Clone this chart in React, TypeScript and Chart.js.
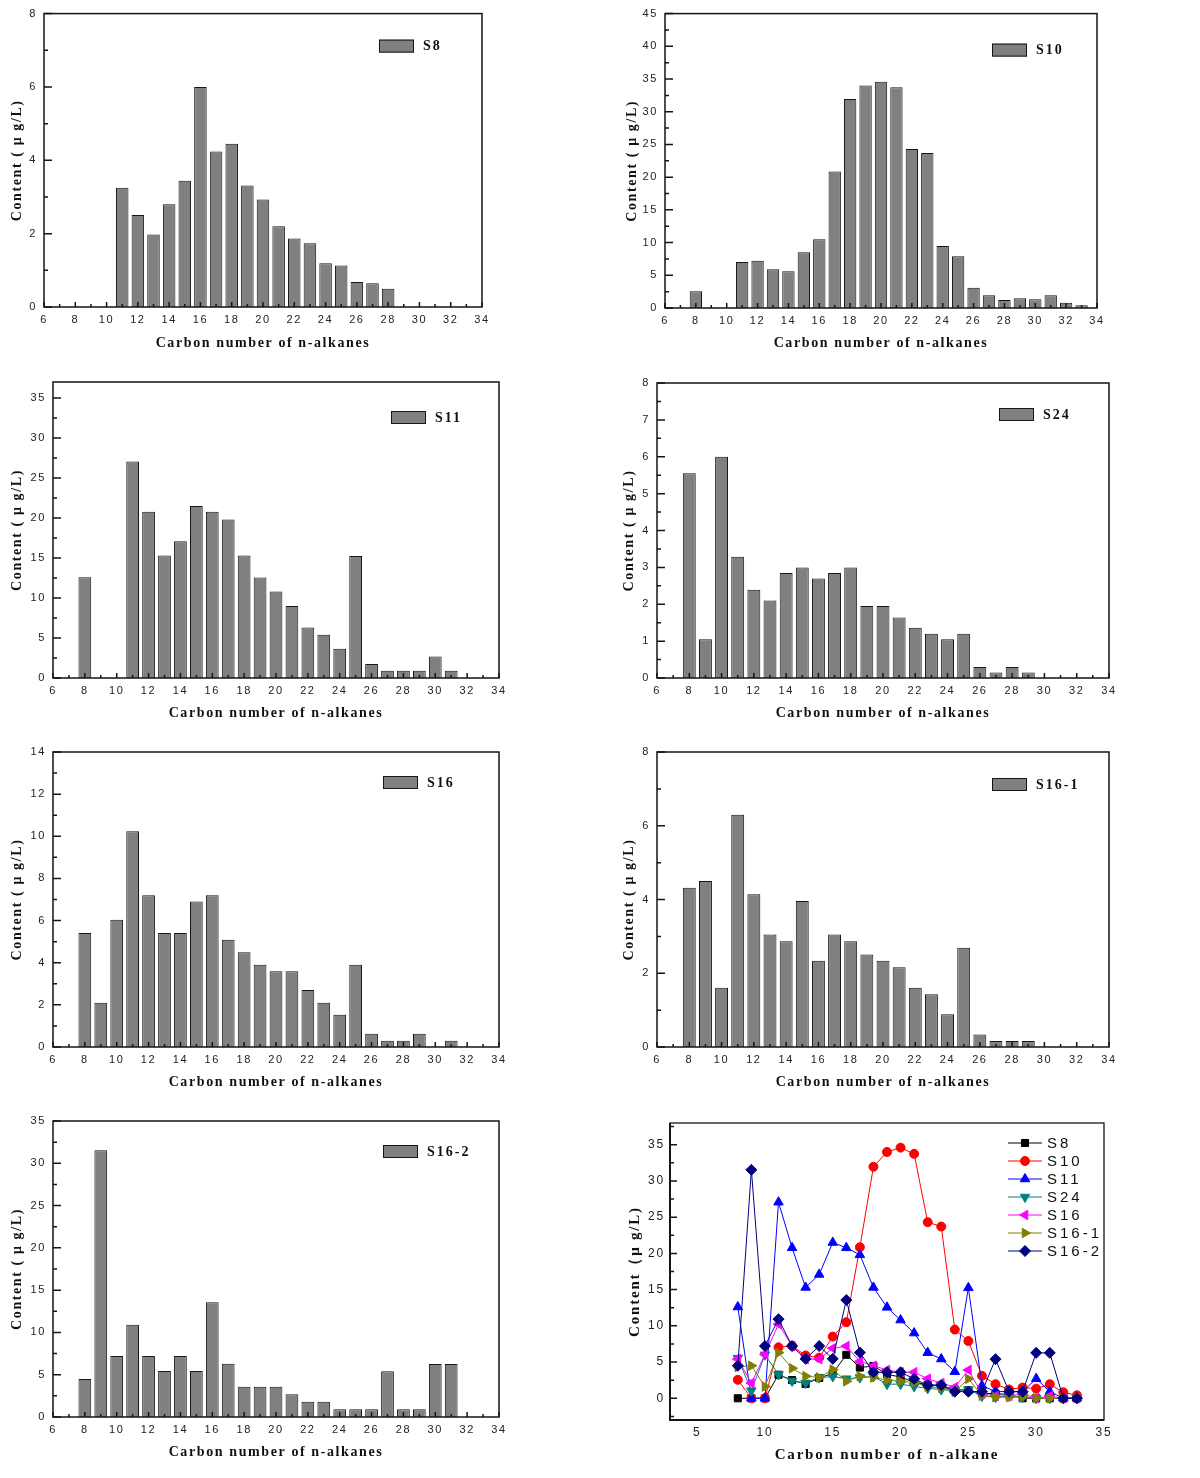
import React, { useEffect, useRef } from 'react';
import { Chart, registerables } from 'chart.js';

Chart.register(...registerables);

// ---------------- DATA ----------------
const CARBON = [8, 9, 10, 11, 12, 13, 14, 15, 16, 17, 18, 19, 20, 21, 22, 23, 24, 25, 26, 27, 28, 29, 30, 31, 32, 33];

const S8 = [null, null, null, 3.25, 2.51, 1.98, 2.8, 3.44, 6.0, 4.24, 4.45, 3.31, 2.93, 2.2, 1.87, 1.74, 1.19, 1.13, 0.68, 0.65, 0.5, null, null, null, null, null];
const S10 = [2.55, null, null, 7.03, 7.24, 5.91, 5.61, 8.51, 10.5, 20.85, 31.96, 34.0, 34.6, 33.74, 24.31, 23.7, 9.48, 7.9, 3.1, 1.94, 1.22, 1.48, 1.33, 1.94, 0.82, 0.41];
const S11 = [12.6, null, null, 27.07, 20.77, 15.3, 17.1, 21.5, 20.77, 19.8, 15.3, 12.55, 10.8, 9.0, 6.3, 5.42, 3.67, 15.25, 1.75, 0.92, 0.92, 0.92, 2.7, 0.92, null, null];
const S24 = [5.55, 1.05, 6.0, 3.29, 2.39, 2.1, 2.85, 3.0, 2.7, 2.85, 3.0, 1.95, 1.95, 1.64, 1.36, 1.2, 1.05, 1.2, 0.3, 0.15, 0.3, 0.15, null, null, null, null];
const S16 = [5.41, 2.1, 6.04, 10.24, 7.2, 5.41, 5.41, 6.9, 7.2, 5.09, 4.5, 3.9, 3.6, 3.6, 2.7, 2.1, 1.53, 3.9, 0.63, 0.3, 0.3, 0.63, null, 0.3, null, null];
const S16_1 = [4.32, 4.5, 1.61, 6.3, 4.14, 3.05, 2.87, 3.96, 2.34, 3.05, 2.87, 2.51, 2.34, 2.16, 1.61, 1.43, 0.89, 2.69, 0.34, 0.16, 0.16, 0.16, null, null, null, null];
const S16_2 = [4.49, 31.53, 7.21, 10.92, 7.21, 5.44, 7.21, 5.44, 13.56, 6.31, 3.59, 3.59, 3.59, 2.68, 1.81, 1.81, 0.91, 0.91, 0.91, 5.4, 0.91, 0.91, 6.27, 6.27, null, null];

const SERIES_NAMES = ['S8', 'S10', 'S11', 'S24', 'S16', 'S16-1', 'S16-2'];
const SERIES_VALUES = [S8, S10, S11, S24, S16, S16_1, S16_2];

const X_TITLE_BAR = 'Carbon number of n-alkanes';
const X_TITLE_LINE = 'Carbon number of n-alkane';
const Y_TITLE_BAR = 'Content ( μ g/L)';
const Y_TITLE_LINE = 'Content（μ g/L)';

// ---------------- STYLES / LAYOUT ----------------
const BAR_FILL = '#808080';
const EDGE = '#151515';
const LINE_COLORS = ['#000000', '#ff0000', '#0000ff', '#008080', '#ff00ff', '#808000', '#000080'];
const LINE_POINTS = ['rect', 'circle', 'triangle', 'triangle', 'triangle', 'triangle', 'rectRot'];
const LINE_ROT = [0, 0, 0, 180, 270, 90, 0];
const LINE_RADIUS = [5, 4.5, 5.5, 5.5, 5.5, 5.5, 5.5];

type BarPanelCfg = {
  idx: number;
  canvas: [number, number, number, number];
  area: [number, number, number, number];
  yMax: number;
  yMajor: number;
  yMinor: number;
  legend: [number, number];
  yTitleX: number;
  xTitleOff: number;
};

const BAR_PANELS: BarPanelCfg[] = [
  { idx: 0, canvas: [0, 0, 600, 365], area: [44, 12, 482, 307], yMax: 8, yMajor: 2, yMinor: 1, legend: [103, 26], yTitleX: 17, xTitleOff: 22 },
  { idx: 1, canvas: [600, 0, 600, 365], area: [665, 13, 1097, 308], yMax: 45, yMajor: 5, yMinor: 2.5, legend: [105, 30], yTitleX: 32, xTitleOff: 22 },
  { idx: 2, canvas: [0, 365, 600, 370], area: [53, 382, 499, 678], yMax: 37, yMajor: 5, yMinor: 2.5, legend: [108, 29], yTitleX: 17, xTitleOff: 22 },
  { idx: 3, canvas: [600, 365, 600, 370], area: [657, 383, 1109, 678], yMax: 8, yMajor: 1, yMinor: 0.5, legend: [110, 25], yTitleX: 29, xTitleOff: 22 },
  { idx: 4, canvas: [0, 735, 600, 368], area: [53, 752, 499, 1047], yMax: 14, yMajor: 2, yMinor: 1, legend: [116, 24], yTitleX: 17, xTitleOff: 21 },
  { idx: 5, canvas: [600, 735, 600, 368], area: [657, 752, 1109, 1047], yMax: 8, yMajor: 2, yMinor: 1, legend: [117, 26], yTitleX: 29, xTitleOff: 21 },
  { idx: 6, canvas: [0, 1103, 600, 375], area: [53, 1121, 499, 1417], yMax: 35, yMajor: 5, yMinor: 2.5, legend: [116, 24], yTitleX: 17, xTitleOff: 26 },
];

const LINE_PANEL = { canvas: [600, 1103, 600, 375], area: [670, 1123, 1104, 1420], yTitleX: 35, xTitleOff: 23 };

const TICK_FONT = { family: "'Liberation Sans', Arial, sans-serif", size: 11 };
const TITLE_FONT = { family: "'Liberation Serif', 'Times New Roman', serif", size: 14, weight: 'bold' as const, lineHeight: 1.2 };

function isMult(v: number, step: number) {
  const r = v / step;
  return Math.abs(r - Math.round(r)) < 1e-6;
}

function tickValues(min: number, max: number, step: number) {
  const out: number[] = [];
  const start = Math.ceil(min / step - 1e-9);
  for (let k = start; k * step <= max + 1e-9; k++) out.push(k * step);
  return out;
}

function drawMarker(ctx: CanvasRenderingContext2D, style: string, rotDeg: number, x: number, y: number, r: number) {
  ctx.beginPath();
  let rad = (rotDeg * Math.PI) / 180;
  if (style === 'circle') {
    ctx.arc(x, y, r, 0, Math.PI * 2);
  } else if (style === 'rect') {
    const s = Math.SQRT1_2 * r;
    ctx.rect(x - s, y - s, 2 * s, 2 * s);
  } else if (style === 'triangle') {
    for (let i = 0; i < 3; i++) {
      const px = x + Math.sin(rad) * r;
      const py = y - Math.cos(rad) * r;
      if (i === 0) ctx.moveTo(px, py);
      else ctx.lineTo(px, py);
      rad += (2 * Math.PI) / 3;
    }
    ctx.closePath();
  } else if (style === 'rectRot') {
    const xo = Math.cos(rad) * r;
    const yo = Math.sin(rad) * r;
    ctx.moveTo(x - xo, y - yo);
    ctx.lineTo(x + yo, y - xo);
    ctx.lineTo(x + xo, y + yo);
    ctx.lineTo(x - yo, y + xo);
    ctx.closePath();
  }
  ctx.fill();
  ctx.stroke();
}

// ---------------- BAR PANEL ----------------
function BarPanel({ cfg }: { cfg: BarPanelCfg }) {
  const ref = useRef<HTMLCanvasElement | null>(null);
  const [cx, cy, cw, ch] = cfg.canvas;
  useEffect(() => {
    const [al, at, ar, ab] = cfg.area;
    const name = SERIES_NAMES[cfg.idx];
    const values = SERIES_VALUES[cfg.idx];
    const decor = {
      id: 'decor',
      beforeDraw(chart: any) {
        chart.ctx.letterSpacing = '1.6px';
      },
      afterDraw(chart: any) {
        const { ctx, chartArea: a, scales } = chart;
        ctx.save();
        ctx.strokeStyle = EDGE;
        ctx.lineWidth = 1.5;
        ctx.strokeRect(a.left, a.top, a.right - a.left, a.bottom - a.top);
        ctx.beginPath();
        for (const v of tickValues(6, 34, 1)) {
          const px = scales.x.getPixelForValue(v);
          const len = isMult(v, 2) ? 5 : 3;
          ctx.moveTo(px, a.bottom);
          ctx.lineTo(px, a.bottom - len);
        }
        for (const v of tickValues(0, cfg.yMax, cfg.yMinor)) {
          const py = scales.y.getPixelForValue(v);
          const len = isMult(v, cfg.yMajor) ? 8 : 4;
          ctx.moveTo(a.left, py);
          ctx.lineTo(a.left + len, py);
        }
        ctx.stroke();
        // legend
        const bx = a.right - cfg.legend[0];
        const by = a.top + cfg.legend[1];
        ctx.fillStyle = BAR_FILL;
        ctx.lineWidth = 1;
        ctx.fillRect(bx, by, 35, 13);
        ctx.strokeRect(bx + 0.5, by + 0.5, 34, 12);
        ctx.fillStyle = '#111';
        ctx.font = "bold 14px 'Liberation Serif', 'Times New Roman', serif";
        ctx.letterSpacing = '2px';
        ctx.textBaseline = 'middle';
        ctx.textAlign = 'left';
        ctx.fillText(name, bx + 44, by + 7);
        ctx.restore();
      },
    };
    const chart = new Chart(ref.current as HTMLCanvasElement, {
      type: 'bar',
      data: {
        datasets: [
          {
            label: name,
            data: CARBON.map((c, i) => ({ x: c, y: values[i] })).filter((d) => d.y !== null) as any,
            backgroundColor: BAR_FILL,
            borderColor: EDGE,
            borderWidth: 1,
            barPercentage: 0.8,
            categoryPercentage: 1,
          },
        ],
      },
      options: {
        responsive: false,
        animation: false,
        devicePixelRatio: 1,
        layout: { padding: { left: 0, top: at - cy, right: cx + cw - ar, bottom: 0 } },
        plugins: { legend: { display: false }, tooltip: { enabled: false } },
        scales: {
          x: {
            type: 'linear',
            min: 6,
            max: 34,
            offset: false,
            grid: { display: false, drawTicks: false },
            border: { display: false },
            ticks: {
              stepSize: 1,
              autoSkip: false,
              maxRotation: 0,
              padding: 6,
              color: '#222',
              font: TICK_FONT,
              callback: (v: any) => (isMult(Number(v), 2) ? String(v) : ''),
            },
            title: {
              display: true,
              text: X_TITLE_BAR,
              color: '#111',
              font: TITLE_FONT,
              padding: { top: 0, bottom: cfg.xTitleOff - 8.4 },
            },
            afterFit: (s: any) => {
              s.height = cy + ch - ab;
            },
          },
          y: {
            type: 'linear',
            min: 0,
            max: cfg.yMax,
            grid: { display: false, drawTicks: false },
            border: { display: false },
            ticks: {
              stepSize: cfg.yMinor,
              autoSkip: false,
              padding: 7,
              color: '#222',
              font: TICK_FONT,
              callback: (v: any) => (isMult(Number(v), cfg.yMajor) ? String(v) : ''),
            },
            title: {
              display: true,
              text: Y_TITLE_BAR,
              color: '#111',
              font: TITLE_FONT,
              padding: { top: cfg.yTitleX - 8.4, bottom: 0 },
            },
            afterFit: (s: any) => {
              s.width = al - cx;
            },
          },
        },
      } as any,
      plugins: [decor],
    });
    return () => chart.destroy();
  }, []);
  return (
    <canvas
      ref={ref}
      width={cw}
      height={ch}
      style={{ position: 'absolute', left: cx, top: cy, width: cw, height: ch }}
    />
  );
}

// ---------------- LINE PANEL ----------------
function LinePanel() {
  const ref = useRef<HTMLCanvasElement | null>(null);
  const [cx, cy, cw, ch] = LINE_PANEL.canvas;
  useEffect(() => {
    const [al, at, ar, ab] = LINE_PANEL.area;
    const decor = {
      id: 'decor',
      beforeDraw(chart: any) {
        chart.ctx.letterSpacing = '1.8px';
      },
      afterDraw(chart: any) {
        const { ctx, chartArea: a, scales } = chart;
        ctx.save();
        ctx.strokeStyle = EDGE;
        ctx.lineWidth = 1.3;
        ctx.strokeRect(a.left, a.top, a.right - a.left, a.bottom - a.top);
        ctx.lineWidth = 2;
        ctx.beginPath();
        ctx.moveTo(a.left, a.top);
        ctx.lineTo(a.left, a.bottom);
        ctx.lineTo(a.right, a.bottom);
        ctx.stroke();
        ctx.lineWidth = 1.5;
        ctx.beginPath();
        for (const v of tickValues(-3, 38, 2.5)) {
          const py = scales.y.getPixelForValue(v);
          const len = isMult(v, 5) ? 7 : 4;
          ctx.moveTo(a.left, py);
          ctx.lineTo(a.left + len, py);
        }
        ctx.stroke();
        // legend
        const lx = a.right - 96;
        ctx.font = "15px 'Liberation Sans', Arial, sans-serif";
        ctx.letterSpacing = '3px';
        ctx.textBaseline = 'middle';
        ctx.textAlign = 'left';
        SERIES_NAMES.forEach((n, i) => {
          const y = a.top + 20 + i * 18;
          ctx.strokeStyle = LINE_COLORS[i];
          ctx.fillStyle = LINE_COLORS[i];
          ctx.lineWidth = 1;
          ctx.beginPath();
          ctx.moveTo(lx, y);
          ctx.lineTo(lx + 34, y);
          ctx.stroke();
          drawMarker(ctx, LINE_POINTS[i], LINE_ROT[i], lx + 17, y, LINE_RADIUS[i]);
          ctx.fillStyle = '#111';
          ctx.fillText(n, lx + 39, y + 1);
        });
        ctx.restore();
      },
    };
    const chart = new Chart(ref.current as HTMLCanvasElement, {
      type: 'line',
      data: {
        datasets: SERIES_NAMES.map((n, i) => ({
          label: n,
          data: CARBON.map((c, k) => ({ x: c, y: SERIES_VALUES[i][k] ?? 0 })) as any,
          borderColor: LINE_COLORS[i],
          backgroundColor: LINE_COLORS[i],
          pointBackgroundColor: LINE_COLORS[i],
          pointBorderColor: LINE_COLORS[i],
          pointStyle: LINE_POINTS[i] as any,
          pointRotation: LINE_ROT[i],
          pointRadius: LINE_RADIUS[i],
          borderWidth: 1,
          tension: 0,
          fill: false,
          order: SERIES_NAMES.length - 1 - i,
        })),
      },
      options: {
        responsive: false,
        animation: false,
        devicePixelRatio: 1,
        layout: { padding: { left: 0, top: at - cy, right: cx + cw - ar, bottom: 0 } },
        plugins: { legend: { display: false }, tooltip: { enabled: false } },
        scales: {
          x: {
            type: 'linear',
            min: 3,
            max: 35,
            grid: { display: false, drawTicks: false },
            border: { display: false },
            ticks: {
              stepSize: 5,
              autoSkip: false,
              maxRotation: 0,
              padding: 5,
              color: '#222',
              font: { family: TICK_FONT.family, size: 12 },
              callback: (v: any) => (isMult(Number(v), 5) ? String(v) : ''),
            },
            title: {
              display: true,
              text: X_TITLE_LINE,
              color: '#111',
              font: { ...TITLE_FONT, size: 15 },
              padding: { top: 0, bottom: LINE_PANEL.xTitleOff - 9 },
            },
            afterFit: (s: any) => {
              s.height = cy + ch - ab;
            },
          },
          y: {
            type: 'linear',
            min: -3,
            max: 38,
            grid: { display: false, drawTicks: false },
            border: { display: false },
            ticks: {
              stepSize: 2.5,
              autoSkip: false,
              padding: 5,
              color: '#222',
              font: { family: TICK_FONT.family, size: 12 },
              callback: (v: any) => (isMult(Number(v), 5) ? String(v) : ''),
            },
            title: {
              display: true,
              text: Y_TITLE_LINE,
              color: '#111',
              font: { ...TITLE_FONT, size: 15 },
              padding: { top: LINE_PANEL.yTitleX - 9, bottom: 0 },
            },
            afterFit: (s: any) => {
              s.width = al - cx;
            },
          },
        },
      } as any,
      plugins: [decor],
    });
    return () => chart.destroy();
  }, []);
  return (
    <canvas
      ref={ref}
      width={cw}
      height={ch}
      style={{ position: 'absolute', left: cx, top: cy, width: cw, height: ch }}
    />
  );
}

export default function App() {
  return (
    <div style={{ position: 'absolute', left: 0, top: 0, width: 1200, height: 1478, background: '#fff' }}>
      {BAR_PANELS.map((p) => (
        <BarPanel key={p.idx} cfg={p} />
      ))}
      <LinePanel />
    </div>
  );
}
